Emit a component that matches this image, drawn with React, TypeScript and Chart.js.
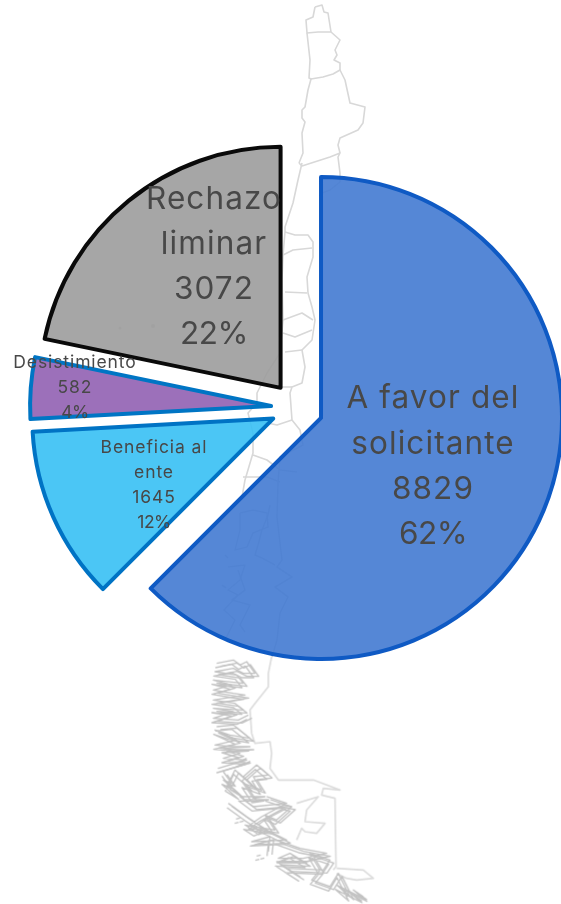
import React, { useEffect, useRef } from "react";
import { Chart, registerables } from "chart.js";

Chart.register(...registerables);

const categories = ["A favor del solicitante", "Beneficia al ente", "Desistimiento", "Rechazo liminar"];
const values = [8829, 1645, 582, 3072];
const percents = ["62%", "12%", "4%", "22%"];
const labelLines = [["A favor del", "solicitante"], ["Beneficia al", "ente"], ["Desistimiento"], ["Rechazo", "liminar"]];

const fillColors = ["rgba(66,122,209,0.9)", "rgba(55,192,244,0.9)", "rgba(145,96,179,0.9)", "rgba(156,156,156,0.9)"];
const borderColors = ["#0f5ac4", "#0073c4", "#0075c4", "#0a0a0a"];

// Label placement: [centre x, first line centre y, line height, font px, letter spacing px]
const labelStyle = [
  [433, 399, 45.3, 31.5, 1.1],
  [154, 448, 25, 17.5, 0.9],
  [75, 363, 25, 17.5, 0.9],
  [214, 200, 45, 31.5, 1.1],
];

const FONT = "Inter, 'Open Sans', sans-serif";
const RADIUS = 241;

const equalRadiusPlugin = {
  id: "equalRadius",
  afterDatasetsUpdate(chart: any) {
    const arcs = chart.getDatasetMeta(0).data;
    arcs.forEach((arc: any) => {
      const offset = (arc.options.offset || 0) / 4;
      const fix = 1 - Math.sin(Math.min(Math.PI, arc.circumference));
      const extra = offset * fix;
      arc.outerRadius = RADIUS - extra;
      const delta = extra / Math.PI / RADIUS / 2;
      arc.startAngle -= delta;
      arc.endAngle += delta;
    });
  },
};

const labelPlugin = {
  id: "sliceLabels",
  afterDatasetsDraw(chart: any) {
    const { ctx } = chart;
    ctx.save();
    ctx.fillStyle = "#484848";
    ctx.textAlign = "center";
    ctx.textBaseline = "middle";
    categories.forEach((_, i) => {
      const [x, y, lh, size, spacing] = labelStyle[i];
      const lines = [...labelLines[i], String(values[i])];
      ctx.font = `400 ${size}px ${FONT}`;
      (ctx as any).letterSpacing = `${spacing}px`;
      lines.forEach((t, k) => ctx.fillText(t, x, y + k * lh));
      (ctx as any).letterSpacing = "-0.5px";
      ctx.fillText(percents[i], x, y + lines.length * lh);
    });
    ctx.restore();
  },
};

const mapLines = [
  "315,7 322,5 324,12 328,13 331,32 318,32 307,33 306,20 313,17 315,7",
  "307,33 310,60 309,78 311,79 308,90 305,107 302,110 302,118 305,122 302,133 303,153 299,163",
  "331,32 340,40 335,50 337,55 334,60 340,63 340,70",
  "311,79 323,77 333,74 340,70 345,80 350,103 365,107 363,123 358,130 340,138 338,145 340,153",
  "299,163 302,166 330,157 340,153 338,157 340,173 340,182 330,190 322,193",
  "302,163 298,180 293,203 285,227 285,232 283,255 282,280 283,320 280,353 267,373 257,393 257,403 248,413 253,433 253,453 245,480 242,497",
  "285,232 295,235 308,235 313,242 313,257 307,277 308,293 312,307 315,320 312,340 302,350 305,367 302,383 292,387 290,393 292,420 300,430 303,445 280,457 278,483 277,517 280,543 282,560 277,567 292,577 275,587 288,597 280,613 277,640 272,657",
  "283,255 293,250 312,248",
  "285,292 307,293",
  "283,320 302,313 313,320",
  "283,333 295,337 312,330",
  "285,352 302,350",
  "282,387 292,387",
  "253,420 277,425 292,420",
  "253,455 267,460 280,470 297,472",
  "243,477 267,477 280,482",
  "240,513 253,510 267,513 268,527 253,533 247,547 235,550 240,530 240,513",
  "270,505 268,515 262,530 258,545 255,555 262,558 275,565",
  "228,567 245,565 240,580 228,590 238,595 224,610 235,620 225,640",
  "238,570 245,590 232,600 250,605 240,625 245,632",
  "225,555 228,558",
  "222,585 226,588",
];
const southCoast = [
  "80,70 130,60 150,75 170,65 195,100 160,100 130,85 75,95 140,105 160,130 70,120 125,135 70,150 130,160 165,165 70,180 135,190 160,210 70,205 130,215 70,235 145,240 175,225",
  "80,260 130,255 180,295 120,285 75,270 140,300 75,315 130,320 180,320 100,325 150,340 100,355 170,360 85,385 135,370 170,355",
  "100,395 125,430 100,420 150,465 110,440 135,390 190,440 160,410 200,375 235,405 190,410 215,450 160,430 190,475 225,470 150,470 190,500 290,490 230,470",
  "115,490 170,530 230,570 180,555 215,530 280,495 305,500 260,540 225,525 255,570 165,555 195,575 220,565 290,600 185,605 240,590 235,635",
  "260,600 330,625 410,640 340,655 265,655 300,640 350,670 260,665 330,710 290,685 400,690 420,660 360,640 390,690 365,720 420,740 445,700 480,770 440,735 520,775 490,750 520,770",
  "138,537 150,534",
  "200,648 212,645",
];
const southBorder = [
  "245,50 235,100 235,140 195,190 180,210 185,280 195,310 240,305 245,340 240,385 265,420 370,420 450,450 400,445 395,465 435,475 438,680 430,690",
  "440,685 520,690 550,715 500,720 470,715 440,700",
  "320,490 385,470 350,510 345,545 405,550 380,580 345,575 335,565 320,600",
];
const coastCopies = [
  [0, 0],
  [11, 9],
  [-4, 13],
];

function ChileMap() {
  return (
    <svg width={561} height={904} style={{ position: "absolute", left: 0, top: 0 }}>
      <defs>
        <filter id="soft" x="-5%" y="-5%" width="110%" height="110%">
          <feGaussianBlur stdDeviation="0.7" />
        </filter>
      </defs>
      <g filter="url(#soft)" fill="none" strokeLinejoin="round">
        {mapLines.map((p, i) => (
          <polyline key={i} points={p} stroke="#d8d8d8" strokeWidth={1.6} />
        ))}
        <g transform="translate(190,640) scale(0.3333)">
          {southBorder.map((p, i) => (
            <polyline key={i} points={p} stroke="#dcdcdc" strokeWidth={5} />
          ))}
          {coastCopies.map(([dx, dy], c) => (
            <g key={c} transform={`translate(${dx},${dy})`}>
              {southCoast.map((p, i) => (
                <polyline key={i} points={p} stroke="#c2c2c2" strokeWidth={4} />
              ))}
            </g>
          ))}
        </g>
        <circle cx={120} cy={328} r={1.5} fill="#c8c8c8" />
        <circle cx={153} cy={326} r={2} fill="#c8c8c8" />
      </g>
    </svg>
  );
}

export default function App() {
  const ref = useRef<HTMLCanvasElement>(null);
  useEffect(() => {
    const chart = new Chart(ref.current!, {
      type: "pie",
      data: {
        labels: categories,
        datasets: [
          {
            data: values,
            backgroundColor: fillColors,
            borderColor: borderColors,
            borderWidth: 4,
            borderJoinStyle: "round",
            offset: 104,
          } as any,
        ],
      },
      options: {
        animation: false,
        responsive: false,
        radius: RADIUS,
        layout: { padding: { left: 33, right: 0, top: 0, bottom: 88 } },
        plugins: { legend: { display: false }, tooltip: { enabled: false } },
      } as any,
      plugins: [equalRadiusPlugin, labelPlugin] as any,
    });
    return () => chart.destroy();
  }, []);
  return (
    <div style={{ position: "absolute", left: 0, top: 0, width: 561, height: 904, overflow: "hidden", background: "#fff" }}>
      <ChileMap />
      <canvas ref={ref} width={561} height={904} style={{ position: "absolute", left: 0, top: 0 }} />
    </div>
  );
}
